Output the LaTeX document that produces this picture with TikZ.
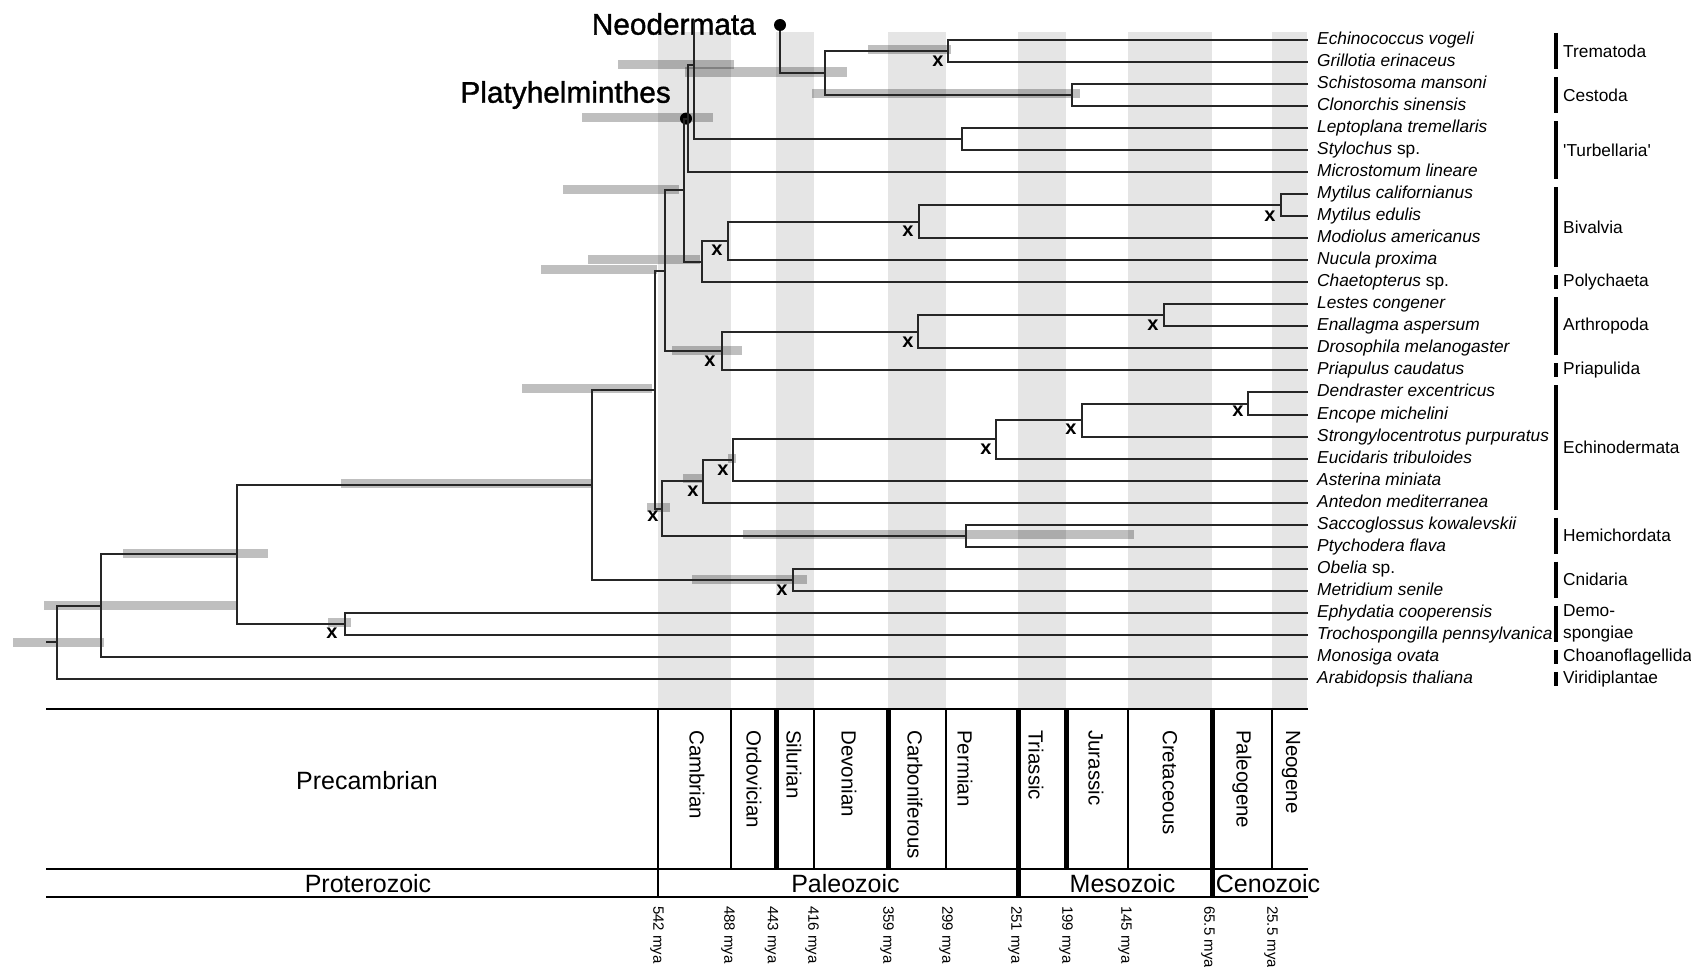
\documentclass[tikz,border=0pt]{standalone}
\usepackage{fontspec}
\setmainfont{Liberation Sans}
\newfontfamily\heavyfont[FakeBold=1.2]{Liberation Sans}

\begin{document}
\begin{tikzpicture}[x=1pt, y=-1pt,
		branch/.style={draw=black!85, line width=2pt},
		cibar/.style={fill=black, fill opacity=0.25},
		band/.style={fill=black!10},
		taxon/.style={anchor=west, inner xsep=9pt, inner ysep=0pt, text height=12.5pt, text depth=3.5pt,
			font=\fontsize{17.3}{18}\selectfont\itshape},
		grp/.style={anchor=west, inner xsep=7pt, inner ysep=0pt, align=left,
			font=\fontsize{17.3}{22}\selectfont},
		grpbar/.style={line width=3.5pt},
		xmark/.style={inner sep=0pt, font=\fontsize{20}{20}\selectfont\bfseries},
		dot/.style={circle, fill=black, inner sep=0pt, minimum size=12pt},
		clade/.style={inner sep=0pt, font=\heavyfont\fontsize{29.8}{30}\selectfont},
		rule/.style={line width=2pt},
		thinrule/.style={line width=1.5pt},
		thickrule/.style={line width=5pt},
		period/.style={rotate=-90, anchor=west, inner sep=0pt, font=\fontsize{20.5}{21}\selectfont},
		era/.style={inner sep=0pt, font=\fontsize{25}{25}\selectfont},
		mya/.style={rotate=-90, anchor=west, inner sep=0pt, font=\fontsize{15}{15}\selectfont}
	]
	\fill[white] (0,0) rectangle (1691,966);
	\useasboundingbox (0,0) rectangle (1691,966);

	% period shading
	\foreach \a/\b in {658/731, 776/814, 888/946, 1018/1066, 1128/1212, 1272/1307}
		\fill[band] (\a,32) rectangle (\b,708);

	% node age intervals
	\foreach \y/\a/\b in {642/13/104, 605/44/236, 553/123/268, 483.5/341/591, 622.5/328/351,
		388.5/522/652, 579/692/807, 507.5/647/670, 478/683/704, 458/728/736, 534.5/743/1134,
		269.5/541/657, 350/672/742, 189.5/563/679, 259/588/700, 117.5/582/713,
		65/618/734, 72/685/847, 49.5/868/951, 93.5/812/1080}
		\fill[cibar] (\a,{\y-4.5}) rectangle (\b,{\y+4.5});

	% taxa
	\foreach \i/\taxname in {1/Echinococcus vogeli, 2/Grillotia erinaceus, 3/Schistosoma mansoni,
		4/Clonorchis sinensis, 5/Leptoplana tremellaris, 6/{Stylochus \textup{sp.}},
		7/Microstomum lineare, 8/Mytilus californianus, 9/Mytilus edulis, 10/Modiolus americanus,
		11/Nucula proxima, 12/{Chaetopterus \textup{sp.}}, 13/Lestes congener, 14/Enallagma aspersum,
		15/Drosophila melanogaster, 16/Priapulus caudatus, 17/Dendraster excentricus,
		18/Encope michelini, 19/Strongylocentrotus purpuratus, 20/Eucidaris tribuloides,
		21/Asterina miniata, 22/Antedon mediterranea, 23/Saccoglossus kowalevskii,
		24/Ptychodera flava, 25/{Obelia \textup{sp.}}, 26/Metridium senile,
		27/Ephydatia cooperensis, 28/Trochospongilla pennsylvanica, 29/Monosiga ovata,
		30/Arabidopsis thaliana}
		\node[taxon] (t\i) at (1308,{40+(\i-1)*22.03}) {\taxname};

	% internal nodes
	\coordinate (stem) at (46,642.2);
	\coordinate (root) at (57,642.2);
	\coordinate (n101) at (101,605.5);
	\coordinate (n237) at (237,554.2);
	\coordinate (sponge) at (344.6,623.8);
	\coordinate (eumet) at (592.3,484.7);
	\coordinate (cnid) at (793.3,579.75);
	\coordinate (bilat) at (655,389.6);
	\coordinate (deut) at (661.7,508.5);
	\coordinate (hemi) at (966,535.7);
	\coordinate (echino) at (703.3,481.3);
	\coordinate (echD) at (733.3,460);
	\coordinate (echC) at (996,439.3);
	\coordinate (echB) at (1081.6,420);
	\coordinate (echA) at (1248,403.5);
	\coordinate (proto) at (664.5,270.7);
	\coordinate (ecdys) at (722.3,351.2);
	\coordinate (arthro) at (918,331.9);
	\coordinate (lestes) at (1163.6,315.4);
	\coordinate (lopho) at (684,190.2);
	\coordinate (molann) at (702,261.7);
	\coordinate (bival) at (728,241);
	\coordinate (mytmod) at (918.8,221.75);
	\coordinate (mytil) at (1281,205.2);
	\coordinate (platy) at (688,118.6);
	\coordinate (flat) at (694,65);
	\coordinate (flattop) at (694,20);
	\coordinate (turb) at (962,139.2);
	\coordinate (neoder) at (825,73);
	\coordinate (trem) at (947.7,51);
	\coordinate (cest) at (1072,95.1);

	\node[dot] (neodot) at (780,25) {};
	\node[dot] (platydot) at (686,118.6) {};
	\node[clade, anchor=east] (neolbl) at (756,24) {Neodermata};
	\node[clade, anchor=east] (platylbl) at (671,95) {Platyhelminthes};

	% branches
	\draw[branch] (stem) -- (root);
	\draw[branch] (n101) -| (root) |- (t30.west);
	\draw[branch] (n237) -| (n101) |- (t29.west);
	\draw[branch] (eumet) -| (n237) |- (sponge);
	\draw[branch] (t27.west) -| (sponge) |- (t28.west);
	\draw[branch] (bilat) -| (eumet) |- (cnid);
	\draw[branch] (t25.west) -| (cnid) |- (t26.west);
	\draw[branch] (proto) -| (bilat) |- (deut);
	\draw[branch] (echino) -| (deut) |- (hemi);
	\draw[branch] (t23.west) -| (hemi) |- (t24.west);
	\draw[branch] (echD) -| (echino) |- (t22.west);
	\draw[branch] (echC) -| (echD) |- (t21.west);
	\draw[branch] (echB) -| (echC) |- (t20.west);
	\draw[branch] (echA) -| (echB) |- (t19.west);
	\draw[branch] (t17.west) -| (echA) |- (t18.west);
	\draw[branch] (lopho) -| (proto) |- (ecdys);
	\draw[branch] (arthro) -| (ecdys) |- (t16.west);
	\draw[branch] (lestes) -| (arthro) |- (t15.west);
	\draw[branch] (t13.west) -| (lestes) |- (t14.west);
	\draw[branch] (platy) -| (lopho) |- (molann);
	\draw[branch] (bival) -| (molann) |- (t12.west);
	\draw[branch] (mytmod) -| (bival) |- (t11.west);
	\draw[branch] (mytil) -| (mytmod) |- (t10.west);
	\draw[branch] (t8.west) -| (mytil) |- (t9.west);
	\draw[branch] (flat) -| (platy) |- (t7.west);
	\draw[branch] (flattop) |- (turb);
	\draw[branch] (t5.west) -| (turb) |- (t6.west);
	\draw[branch] (neodot) |- (neoder);
	\draw[branch] (trem) -| (neoder) |- (cest);
	\draw[branch] (t1.west) -| (trem) |- (t2.west);
	\draw[branch] (t3.west) -| (cest) |- (t4.west);

	% duplication marks
	\foreach \n/\x/\y in {1/938/61, 2/717/250, 3/908/231, 4/1270/216, 5/710/361, 6/908/342,
		7/1153/325, 8/1238/411, 9/1071/429, 10/986/449, 11/723/470, 12/693/491, 13/653/516,
		14/782/590, 15/332/633}
		\node[xmark] (x\n) at (\x,\y) {x};

	% groups
	\foreach \a/\b/\g in {1/2/Trematoda, 3/4/Cestoda, 5/7/\textquotesingle Turbellaria\textquotesingle,
		8/11/Bivalvia, 12/12/Polychaeta, 13/15/Arthropoda, 16/16/Priapulida, 17/22/Echinodermata,
		23/24/Hemichordata, 25/26/Cnidaria, 27/28/{Demo-\\spongiae}, 29/29/Choanoflagellida,
		30/30/Viridiplantae}
	{
		\draw[grpbar] (1556,{40+(\a-1)*22.03-7}) -- (1556,{40+(\b-1)*22.03+7});
		\node[grp] (g\a) at (1556,{40+(\a+\b-2)*11.015}) {\g};
	}

	% time scale
	\draw[rule] (46,708.5) -- (1308,708.5);
	\draw[rule] (46,869) -- (1308,869);
	\draw[rule] (46,897) -- (1308,897);
	\draw[thinrule] (658,708.5) -- (658,897);
	\foreach \x in {731, 814, 946, 1128, 1272}
		\draw[thinrule] (\x,708.5) -- (\x,869);
	\foreach \x in {776, 888, 1066}
		\draw[thickrule] (\x,708.5) -- (\x,869);
	\foreach \x in {1018, 1212}
		\draw[thickrule] (\x,708.5) -- (\x,897);

	\foreach \x/\p in {697/Cambrian, 754/Ordovician, 794/Silurian, 849/Devonian, 915/Carboniferous,
		965/Permian, 1036/Triassic, 1096/Jurassic, 1170/Cretaceous, 1242/Paleogene, 1291/Neogene}
		\node[period] (p-\p) at (\x,730) {\p};

	\node[era] (precamb) at (367,781) {Precambrian};
	\node[era] (proter) at (368,884) {Proterozoic};
	\node[era] (paleo) at (845.5,884) {Paleozoic};
	\node[era] (meso) at (1122.5,884) {Mesozoic};
	\node[era] (ceno) at (1268,884) {Cenozoic};

	\foreach \x/\m [count=\k] in {657/542, 728/488, 771.5/443, 812/416, 887/359, 946/299,
		1015/251, 1066/199, 1125/145, 1208/65.5, 1271/25.5}
		\node[mya] (mya\k) at (\x,906) {\m\ mya};
\end{tikzpicture}
\end{document}
